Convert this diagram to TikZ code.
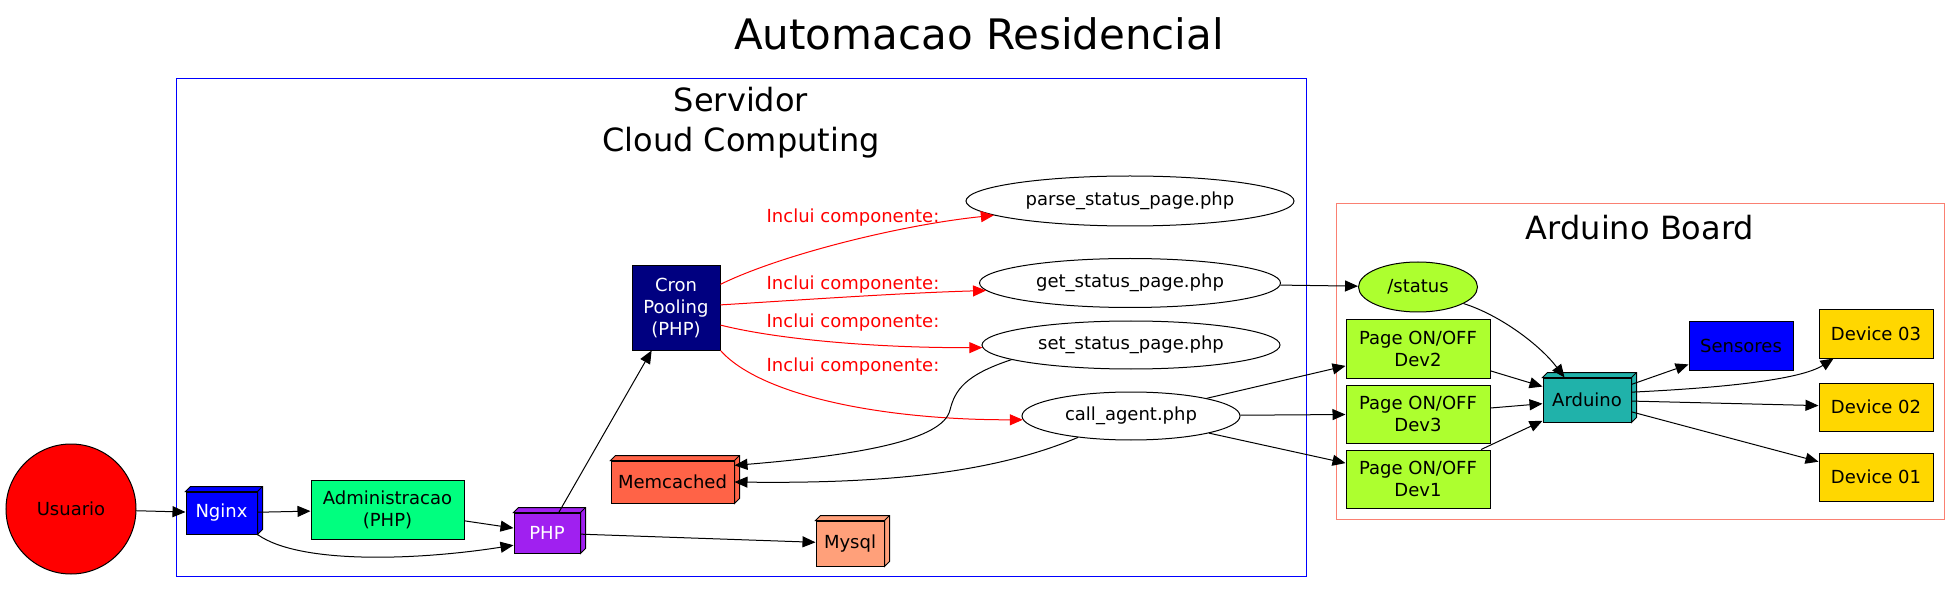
\documentclass[tikz,border=0pt]{standalone}
\usepackage{fontspec}
\setmainfont{DejaVu Sans}
\usepackage{tikz}
\usetikzlibrary{positioning,shapes.geometric,arrows.meta}
\definecolor{springgreen}{HTML}{00FF7F}
\definecolor{phppurple}{HTML}{A020F0}
\definecolor{tomato}{HTML}{FF6347}
\definecolor{lightsalmon}{HTML}{FFA07A}
\definecolor{navyblue}{HTML}{000080}
\definecolor{greenyellow}{HTML}{ADFF2F}
\definecolor{seagreen}{HTML}{20B2AA}
\definecolor{gold}{HTML}{FFD700}
\definecolor{salmon}{HTML}{FA8072}
\newcommand{\nodefont}{\fontsize{9}{11}\selectfont}
\tikzset{
    box/.style={rectangle, draw, fill=#1, inner sep=0pt, font=\nodefont, align=center, line width=0.5pt},
    file/.style={ellipse, draw, inner sep=0pt, font=\nodefont, line width=0.5pt},
    link/.style={-{Triangle[length=6.5pt,width=5.5pt]}, line width=0.5pt},
    include/.style={link, red},
    include label/.style={font=\nodefont, text=red, inner sep=0pt}
}
% top and right faces of a 3d box
\newcommand{\depthfaces}[2]{%
    \filldraw[fill=#2, line width=0.5pt] (#1.north west) -- ++(5,-5)
        -- ([shift={(5,-5)}]#1.north east) -- ([shift={(5,-5)}]#1.south east)
        -- (#1.south east) -- (#1.north east) -- cycle;
    \draw[line width=0.5pt] (#1.north east) -- ++(5,-5);
}

\begin{document}
\begin{tikzpicture}[x=0.5pt, y=-0.5pt]
    \useasboundingbox (0,0) rectangle (1960,593);

    \node[font=\fontsize{21}{25}\selectfont] (title) at (979,34) {Automacao Residencial};

    % clusters
    \draw[blue, line width=0.5pt] (176,79) rectangle (1306,576);
    \node[font=\fontsize{16}{20}\selectfont, align=center] (servidor) at (741,123) {Servidor\\Cloud Computing};
    \draw[salmon, line width=0.5pt] (1336,204) rectangle (1944,519);
    \node[font=\fontsize{16}{19}\selectfont] (board) at (1640,228) {Arduino Board};

    \node[circle, draw, fill=red, minimum size=65pt, font=\nodefont, line width=0.5pt] (usuario) at (71,509) {Usuario};
    \node[box=blue, text=white, minimum width=35.5pt, minimum height=21pt] (nginx) at (221.5,513) {Nginx};
    \node[box=springgreen, minimum width=76.5pt, minimum height=29.5pt] (admin) at (387.5,509.5) {Administracao\\(PHP)};
    \node[box=phppurple, text=white, minimum width=33pt, minimum height=20pt] (php) at (547,533) {PHP};
    \node[box=tomato, minimum width=61.5pt, minimum height=21pt] (memcached) at (672.5,482) {Memcached};
    \node[box=lightsalmon, minimum width=34pt, minimum height=22.5pt] (mysql) at (850,543.5) {Mysql};
    \node[box=navyblue, text=white, minimum width=44pt, minimum height=42pt] (cron) at (676,308) {Cron\\Pooling\\(PHP)};

    \node[file, minimum width=164pt, minimum height=25pt] (parse) at (1130,201) {parse\_status\_page.php};
    \node[file, minimum width=150.5pt, minimum height=24.5pt] (get) at (1130,283) {get\_status\_page.php};
    \node[file, minimum width=149pt, minimum height=24pt] (set) at (1131,345) {set\_status\_page.php};
    \node[file, minimum width=109pt, minimum height=24pt] (agent) at (1131,416) {call\_agent.php};

    \node[file, fill=greenyellow, minimum width=59.5pt, minimum height=25pt] (status) at (1418,287) {/status};
    \node[box=greenyellow, minimum width=72pt, minimum height=29pt] (page2) at (1418,349) {Page ON/OFF\\Dev2};
    \node[box=greenyellow, minimum width=72pt, minimum height=29pt] (page3) at (1418,414) {Page ON/OFF\\Dev3};
    \node[box=greenyellow, minimum width=72pt, minimum height=29pt] (page1) at (1418,479) {Page ON/OFF\\Dev1};
    \node[box=seagreen, minimum width=44pt, minimum height=22pt] (arduino) at (1587,400) {Arduino};
    \node[box=blue, minimum width=52pt, minimum height=24pt] (sensores) at (1741,346) {Sensores};
    \node[box=gold, minimum width=57pt, minimum height=24pt] (device3) at (1876,334) {Device 03};
    \node[box=gold, minimum width=57pt, minimum height=24pt] (device2) at (1876,407) {Device 02};
    \node[box=gold, minimum width=57pt, minimum height=24pt] (device1) at (1876,477) {Device 01};

    \depthfaces{nginx}{blue}
    \depthfaces{php}{phppurple}
    \depthfaces{memcached}{tomato}
    \depthfaces{mysql}{lightsalmon}
    \depthfaces{arduino}{seagreen}

    \draw[link] (usuario) -- (nginx);
    \draw[link] (nginx) -- (admin);
    \draw[link] (nginx.south east) .. controls (300,565) and (420,560) .. (php.200);
    \draw[link] (admin) -- (php);
    \draw[link] (php) -- (cron);
    \draw[link] (php) -- (mysql);

    \draw[include] (cron.28) .. controls (780,255) and (900,225) .. (parse.186)
        node[include label] at (853,218) {Inclui componente:};
    \draw[include] (cron.4) .. controls (800,300) and (900,293) .. (get.183)
        node[include label] at (853,285) {Inclui componente:};
    \draw[include] (cron.339) .. controls (780,340) and (880,348) .. (set.181)
        node[include label] at (853,323) {Inclui componente:};
    \draw[include] (cron.south east) .. controls (760,395) and (880,420) .. (agent.182)
        node[include label] at (853,367) {Inclui componente:};

    \draw[link] (set.187) .. controls (965,375) and (955,390) .. (950,410)
        .. controls (943,440) and (860,455) .. (memcached.15);
    \draw[link] (agent.202.5) .. controls (1000,470) and (900,484) .. (memcached.east);

    \draw[link] (get) -- (status);
    \draw[link] (agent) -- (page2);
    \draw[link] (agent) -- (page3);
    \draw[link] (agent) -- (page1);

    \draw[link] (status.340) .. controls (1500,315) and (1540,345) .. (arduino.135);
    \draw[link] (page2) -- (arduino);
    \draw[link] (page3) -- (arduino);
    \draw[link] (page1) -- (arduino);
    \draw[link] (arduino) -- (sensores);
    \draw[link] (arduino.10) .. controls (1720,388) and (1800,380) .. (device3.210);
    \draw[link] (arduino) -- (device2);
    \draw[link] (arduino) -- (device1);
\end{tikzpicture}
\end{document}
